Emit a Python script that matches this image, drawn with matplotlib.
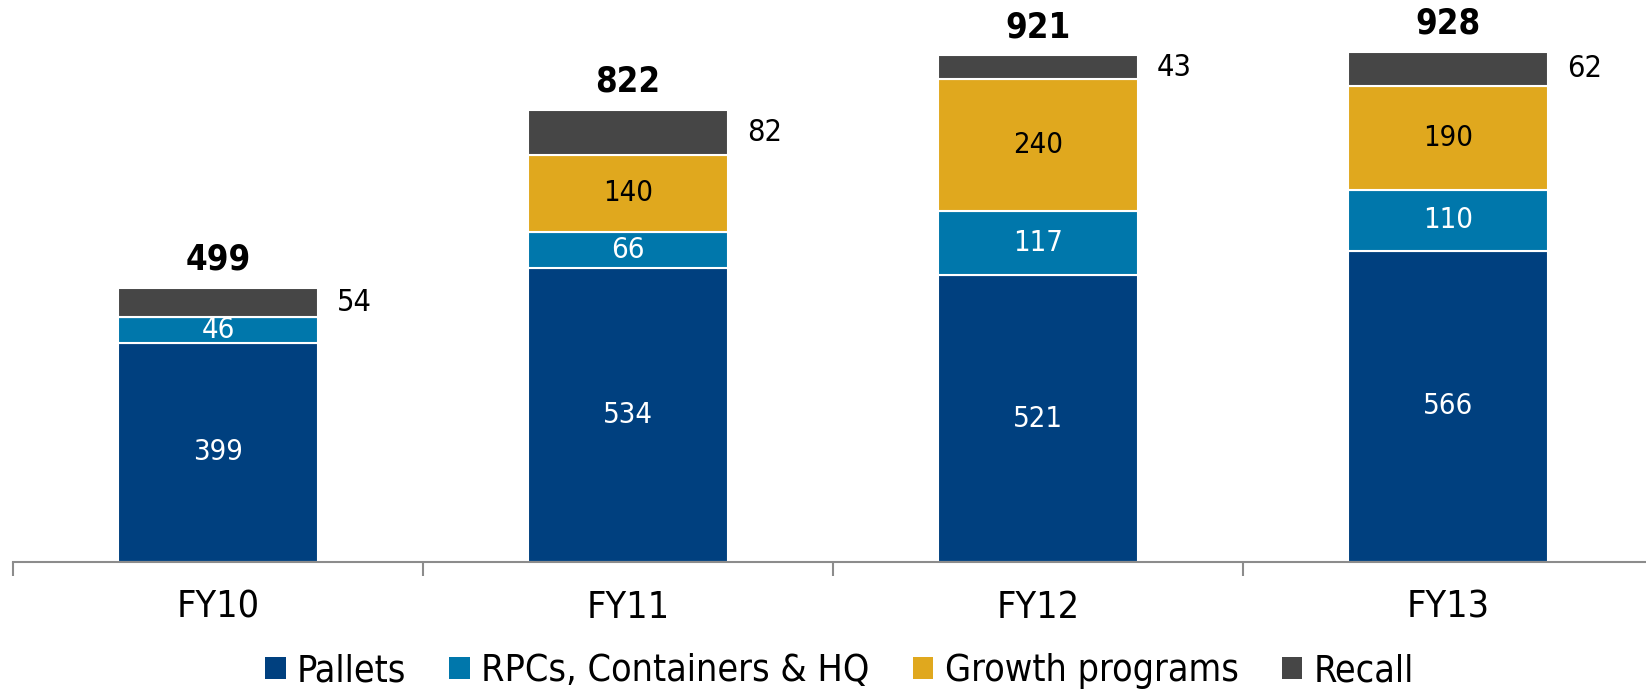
import numpy as np
import matplotlib.pyplot as plt
from matplotlib.patches import Patch

# Data
years = ["FY10", "FY11", "FY12", "FY13"]
pallets = [399, 534, 521, 566]
rpcs = [46, 66, 117, 110]
growth = [0, 140, 240, 190]
recall = [54, 82, 43, 62]
totals = [499, 822, 921, 928]

series_names = ["Pallets", "RPCs, Containers & HQ", "Growth programs", "Recall"]
colors = ["#00407F", "#0077AB", "#E0A81E", "#464646"]
label_colors = ["white", "white", "black", None]

plt.rcParams['font.family'] = ['DejaVu Sans']
plt.rcParams['font.stretch'] = 'condensed'

fig = plt.figure(figsize=(16.46, 6.92), dpi=100)
ax = fig.add_axes([13 / 1646, 130 / 692, 1640 / 1646, 550 / 692])

x = np.arange(len(years))
width = 0.49
bottom = np.zeros(len(years))

for vals, name, col, lc in zip([pallets, rpcs, growth, recall], series_names, colors, label_colors):
    vals = np.array(vals, dtype=float)
    ax.bar(x, vals, width, bottom=bottom, color=col, edgecolor="white", linewidth=1.5, label=name)
    for i, v in enumerate(vals):
        if v <= 0:
            continue
        if lc is None:
            # recall value goes to the right of the bar
            ax.text(x[i] + width / 2 + 0.045, bottom[i] + v / 2, f"{int(v)}",
                    ha="left", va="center", fontsize=22, color="black")
        else:
            ax.text(x[i], bottom[i] + v / 2, f"{int(v)}",
                    ha="center", va="center", fontsize=21, color=lc)
    bottom += vals

# Totals on top
for i, t in enumerate(totals):
    ax.annotate(f"{t}", (x[i], bottom[i]), xytext=(0, 8), textcoords="offset points",
                ha="center", va="bottom", fontsize=25, fontweight="bold")

ax.set_xlim(-0.5, 3.5)
ax.set_ylim(0, 1000)

for s in ["top", "right", "left"]:
    ax.spines[s].set_visible(False)
ax.spines["bottom"].set_color("#8C8C8C")
ax.spines["bottom"].set_linewidth(1.5)

ax.set_yticks([])
ax.set_xticks(x)
ax.set_xticklabels(years, fontsize=27)
ax.tick_params(axis="x", which="major", length=0, pad=20)
ax.set_xticks(np.arange(-0.5, 4, 1), minor=True)
ax.tick_params(axis="x", which="minor", length=10, width=1.5, color="#8C8C8C", direction="out")

handles = [Patch(facecolor=c, edgecolor="none") for c in colors]
fig.legend(handles, series_names, loc="lower center", bbox_to_anchor=(0.51, -0.045),
           ncol=4, frameon=False, fontsize=27, handlelength=0.55, handleheight=0.55,
           handletextpad=0.3, columnspacing=1.15)

fig.savefig("out.png", dpi=100)
